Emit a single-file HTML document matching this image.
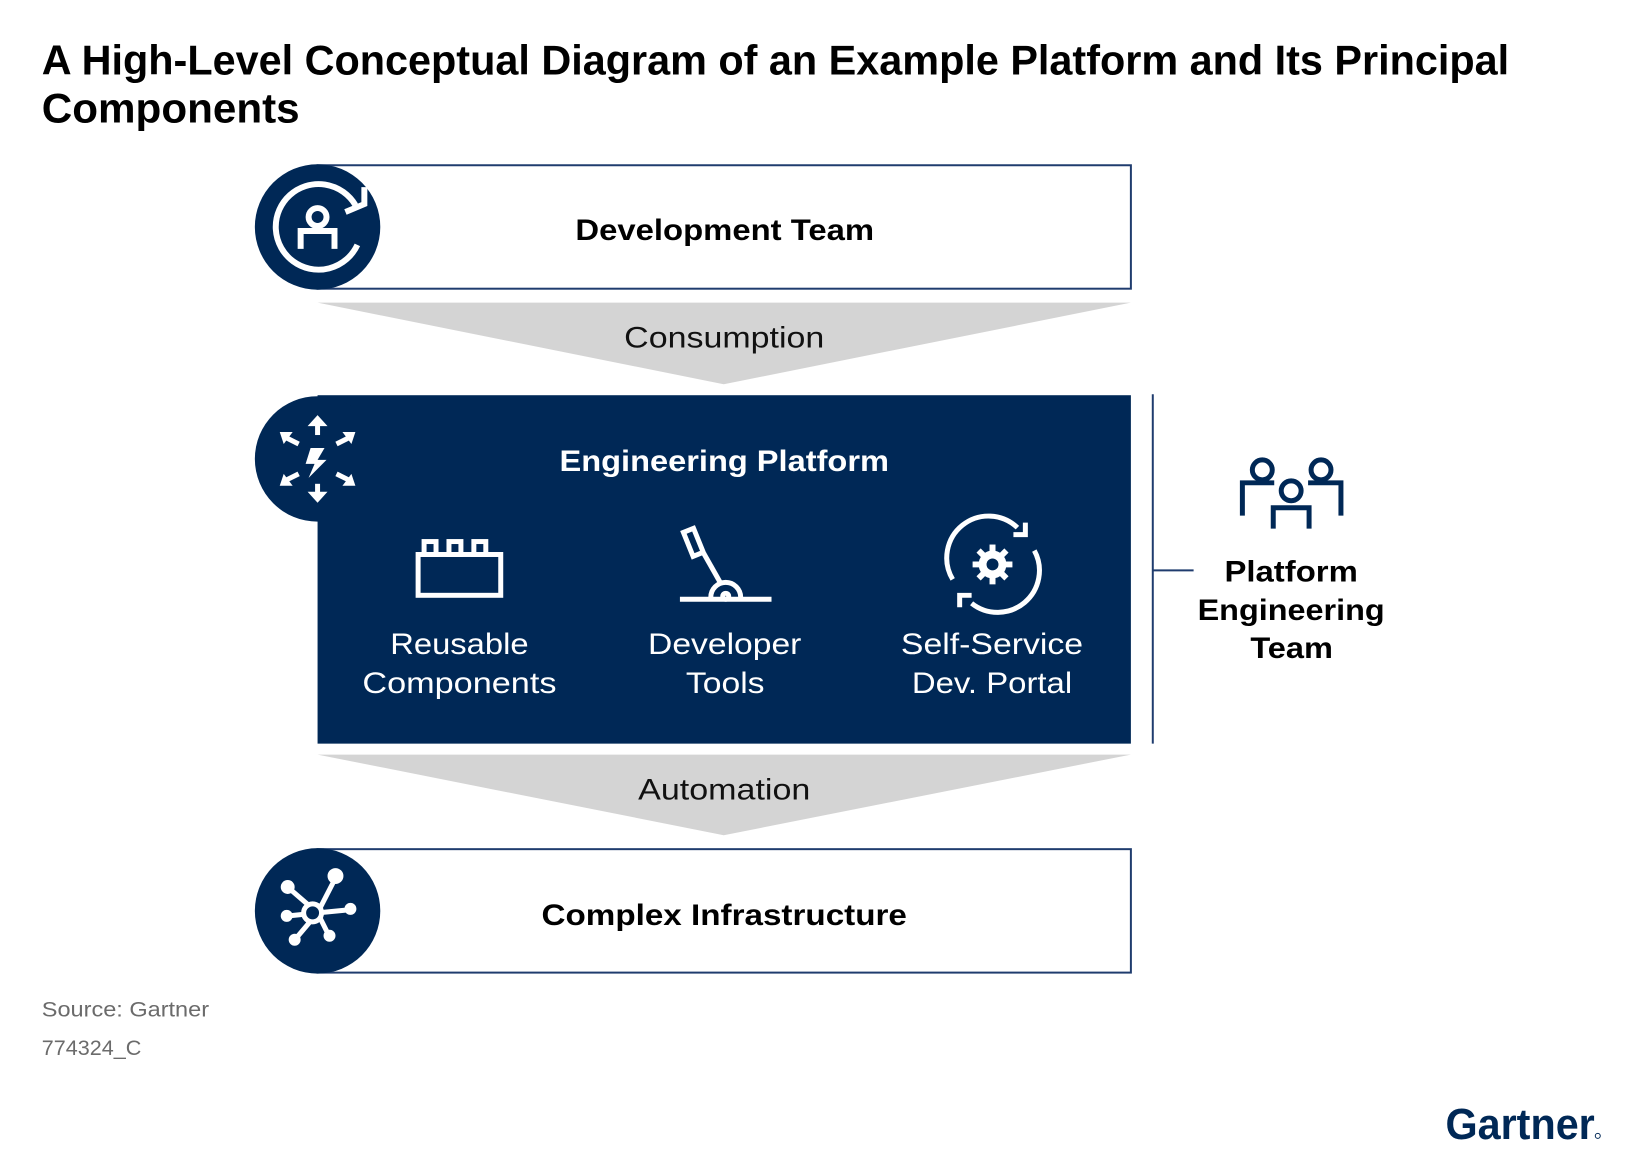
<!DOCTYPE html>
<html><head><meta charset="utf-8"><style>
html,body{margin:0;padding:0;background:#fff;}
svg{display:block;}
text{font-family:"Liberation Sans",sans-serif;}
</style></head><body>
<svg width="1630" height="1157" viewBox="0 0 1630 1157" xmlns="http://www.w3.org/2000/svg">
<rect width="1630" height="1157" fill="#fff"/>
<g transform="scale(0.9955)">
<!-- title -->
<text x="42" y="75" font-size="42" font-weight="bold" fill="#000" textLength="1474" lengthAdjust="spacingAndGlyphs">A High-Level Conceptual Diagram of an Example Platform and Its Principal</text>
<text x="42" y="123" font-size="42" font-weight="bold" fill="#000" textLength="259" lengthAdjust="spacingAndGlyphs">Components</text>

<!-- dev box -->
<rect x="319" y="166" width="817" height="124" fill="#fff" stroke="#1f3c6e" stroke-width="2"/>
<circle cx="319" cy="228" r="63" fill="#002856"/>
<g fill="none" stroke="#fff" stroke-width="6">
  <path d="M357 206 A43 43 0 1 0 359 246"/>
  <circle cx="319" cy="218" r="9"/>
  <path d="M302 250 V232 H336 V250"/>
</g>
<path d="M347 213 L366 205 L366 188" fill="none" stroke="#fff" stroke-width="6"/>
<text x="578" y="241" font-size="30" font-weight="bold" textLength="300" lengthAdjust="spacingAndGlyphs">Development Team</text>

<!-- consumption -->
<polygon points="319,304 1136,304 727,386" fill="#d4d4d4"/>
<text x="627" y="349" font-size="30" fill="#111" textLength="201" lengthAdjust="spacingAndGlyphs">Consumption</text>

<!-- engineering platform -->
<rect x="319" y="397" width="817" height="350" fill="#002856"/>
<circle cx="319" cy="461" r="63" fill="#002856"/>
<g fill="#fff" stroke="#fff">
  <polygon points="312,450 326,450 319,462 328,462 310,480 316,466 307,466" stroke="none"/>
  <g stroke-width="5" fill="none">
    <line x1="319" y1="437" x2="319" y2="425"/><line x1="319" y1="486" x2="319" y2="498"/>
    <line x1="300" y1="446" x2="288" y2="440"/><line x1="338" y1="446" x2="350" y2="440"/>
    <line x1="300" y1="476" x2="288" y2="482"/><line x1="338" y1="476" x2="350" y2="482"/>
  </g>
  <polygon points="309,428 319,417 329,428" stroke="none"/>
  <polygon points="309,494 319,505 329,494" stroke="none"/>
  <polygon points="281,434 294,434 285,446" stroke="none"/>
  <polygon points="357,434 344,434 353,446" stroke="none"/>
  <polygon points="281,488 294,488 285,476" stroke="none"/>
  <polygon points="357,488 344,488 353,476" stroke="none"/>
</g>
<text x="562" y="473" font-size="30" font-weight="bold" fill="#fff" textLength="331" lengthAdjust="spacingAndGlyphs">Engineering Platform</text>

<!-- blocks icon -->
<g fill="none" stroke="#fff" stroke-width="5">
  <rect x="420" y="557" width="83" height="41"/>
  <rect x="426" y="544" width="12" height="13"/>
  <rect x="451" y="544" width="12" height="13"/>
  <rect x="476" y="544" width="12" height="13"/>
</g>
<!-- lever icon -->
<g fill="none" stroke="#fff" stroke-width="5">
  <line x1="683" y1="602" x2="775" y2="602"/>
  <path d="M714 600 A15 15 0 0 1 744 600"/>
  <circle cx="729" cy="599" r="3"/>
  <line x1="724" y1="586" x2="707" y2="556"/>
  <rect x="691" y="532" width="11" height="26" transform="rotate(-22 696 545)"/>
</g>
<!-- gear refresh -->
<g fill="none" stroke="#fff" stroke-width="5">
  <path d="M957 582 A42 42 0 0 1 1022 530"/>
  <path d="M1039 553 A42 42 0 0 1 976 606"/>
</g>
<g stroke="#fff" stroke-width="6">
  <line x1="997" y1="547" x2="997" y2="587"/><line x1="977" y1="567" x2="1017" y2="567"/>
  <line x1="983" y1="553" x2="1011" y2="581"/><line x1="1011" y1="553" x2="983" y2="581"/>
</g>
<circle cx="997" cy="567" r="14" fill="#fff"/>
<circle cx="997" cy="567" r="6" fill="#002856"/>
<path d="M1030 525 V537 H1018" fill="none" stroke="#fff" stroke-width="5"/>
<path d="M964 610 V598 H976" fill="none" stroke="#fff" stroke-width="5"/>

<g font-size="30" fill="#fff">
<text x="392" y="657" textLength="139" lengthAdjust="spacingAndGlyphs">Reusable</text>
<text x="364" y="696" textLength="195" lengthAdjust="spacingAndGlyphs">Components</text>
<text x="651" y="657" textLength="154" lengthAdjust="spacingAndGlyphs">Developer</text>
<text x="689" y="696" textLength="79" lengthAdjust="spacingAndGlyphs">Tools</text>
<text x="905" y="657" textLength="183" lengthAdjust="spacingAndGlyphs">Self-Service</text>
<text x="916" y="696" textLength="161" lengthAdjust="spacingAndGlyphs">Dev. Portal</text>
</g>

<!-- automation -->
<polygon points="319,758 1136,758 727,839" fill="#d4d4d4"/>
<text x="641" y="803" font-size="30" fill="#111" textLength="173" lengthAdjust="spacingAndGlyphs">Automation</text>

<!-- infra -->
<rect x="319" y="853" width="817" height="124" fill="#fff" stroke="#1f3c6e" stroke-width="2"/>
<g transform="translate(0,-2)">
<circle cx="319" cy="917" r="63" fill="#002856"/>
<g stroke="#fff" stroke-width="5" fill="none">
  <line x1="319" y1="919" x2="337" y2="884"/>
  <line x1="319" y1="919" x2="350" y2="916"/>
  <line x1="319" y1="919" x2="290" y2="894"/>
  <line x1="319" y1="919" x2="290" y2="922"/>
  <line x1="319" y1="919" x2="297" y2="945"/>
  <line x1="319" y1="919" x2="330" y2="941"/>
</g>
<g fill="#fff">
  <circle cx="337" cy="882" r="8"/><circle cx="352" cy="915" r="6"/>
  <circle cx="289" cy="893" r="7"/><circle cx="288" cy="922" r="6"/>
  <circle cx="296" cy="946" r="6"/><circle cx="331" cy="942" r="6"/>
</g>
<circle cx="314" cy="919" r="9" fill="#002856" stroke="#fff" stroke-width="5"/>
</g>
<text x="544" y="929" font-size="30" font-weight="bold" textLength="367" lengthAdjust="spacingAndGlyphs">Complex Infrastructure</text>

<!-- platform engineering team -->
<line x1="1158" y1="396" x2="1158" y2="747" stroke="#1f3c6e" stroke-width="2"/>
<line x1="1158" y1="573" x2="1199" y2="573" stroke="#1f3c6e" stroke-width="2"/>
<g fill="none" stroke="#002856" stroke-width="5">
  <circle cx="1268" cy="472" r="10"/>
  <circle cx="1327" cy="472" r="10"/>
  <circle cx="1297" cy="493" r="10"/>
  <path d="M1248 518 V485 H1280"/>
  <path d="M1347 518 V485 H1314"/>
  <path d="M1279 531 V510 H1315 V531"/>
</g>
<g font-size="30" font-weight="bold" fill="#000">
<text x="1230" y="584" textLength="134" lengthAdjust="spacingAndGlyphs">Platform</text>
<text x="1203" y="623" textLength="188" lengthAdjust="spacingAndGlyphs">Engineering</text>
<text x="1256" y="661" textLength="83" lengthAdjust="spacingAndGlyphs">Team</text>
</g>

<!-- source -->
<text x="42" y="1021" font-size="21" fill="#6b6b6b" textLength="168" lengthAdjust="spacingAndGlyphs">Source: Gartner</text>
<text x="42" y="1060" font-size="21" fill="#6b6b6b" textLength="100" lengthAdjust="spacingAndGlyphs">774324_C</text>

<!-- logo -->
<text x="1452" y="1144" font-size="44" font-weight="bold" fill="#002856" textLength="150" lengthAdjust="spacingAndGlyphs">Gartner</text>
<circle cx="1605" cy="1141" r="2.5" fill="none" stroke="#002856" stroke-width="1"/>
</g>
</svg>
</body></html>
